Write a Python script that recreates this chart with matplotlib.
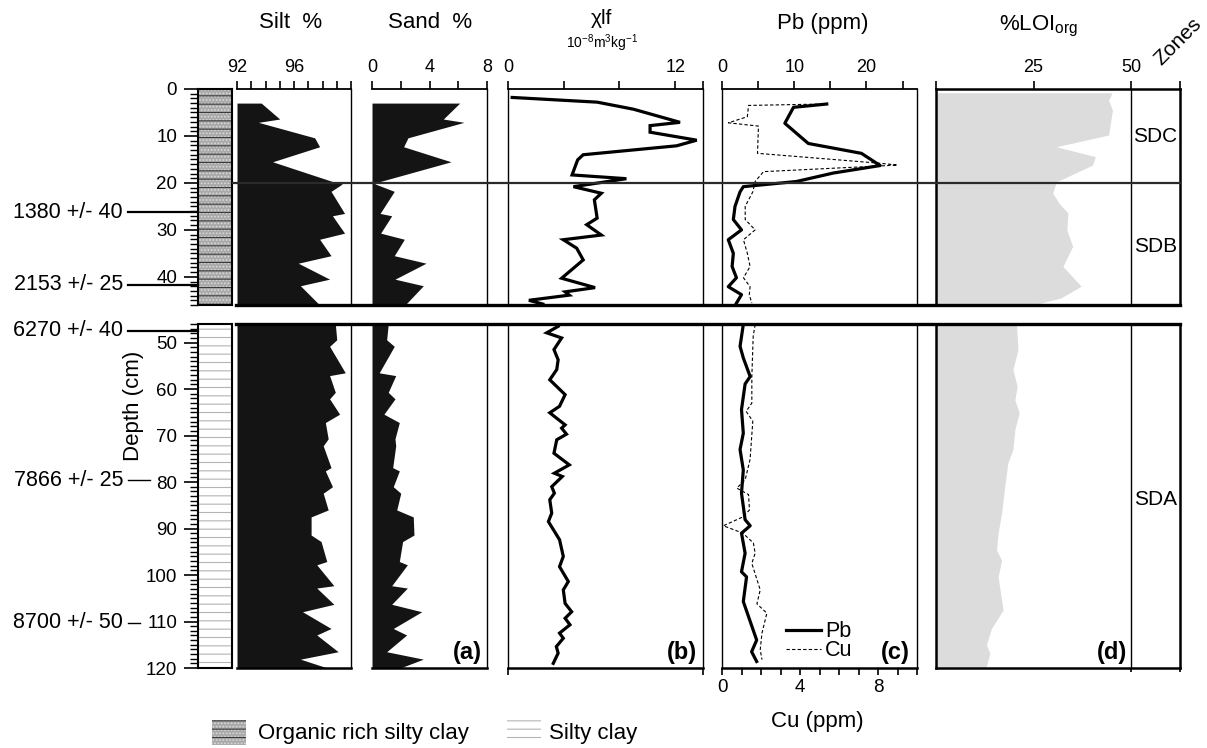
import matplotlib
matplotlib.use('Agg')
import matplotlib.pyplot as plt
from matplotlib.patches import Rectangle
from matplotlib.lines import Line2D
from matplotlib.transforms import blended_transform_factory
from matplotlib.ticker import MultipleLocator

# ---- data (depth in cm) ----
grain_depth_up = [3.0, 6.4, 7.1, 10.4, 12.3, 15.5, 19.9, 20.2, 21.8, 26.5, 27.0, 30.7, 32.0, 35.5,
                  37.1, 40.5, 41.9, 46.0]
silt_up = [93.7, 95.0, 93.5, 97.45, 97.8, 94.5, 98.9, 99.4, 98.6, 99.55, 98.7, 99.55, 97.8, 98.6,
           96.3, 98.5, 96.45, 97.8]
sand_up = [6.1, 4.96, 6.4, 2.5, 2.2, 5.5, 0.33, 0.2, 1.55, 0.56, 1.37, 0.6, 2.25, 1.55,
           3.76, 1.6, 3.57, 2.3]
grain_depth_lo = [46.0, 49.4, 50.8, 56.5, 57.1, 60.7, 62.1, 65.4, 67.2, 70.7, 72.2, 76.9, 77.6, 81.0,
                  82.4, 86.0, 87.5, 91.4, 92.8, 97.1, 97.8, 102.3, 102.8, 106.3, 107.9, 111.5, 112.9,
                  116.5, 118.1, 120.0]
silt_lo = [98.9, 99.0, 98.5, 99.6, 98.5, 98.9, 98.5, 99.2, 98.2, 98.4, 98.05, 98.6, 98.2, 98.7,
           98.05, 98.4, 97.2, 97.2, 97.9, 98.3, 97.6, 98.8, 97.6, 98.8, 96.6, 98.6, 97.6,
           99.1, 96.45, 98.35]
sand_lo = [1.13, 1.02, 1.55, 0.5, 1.65, 1.13, 1.6, 0.83, 1.9, 1.6, 1.65, 1.44, 1.9, 1.48,
           2.0, 1.72, 2.87, 2.92, 2.13, 1.9, 2.46, 1.37, 2.46, 1.37, 3.46, 1.48, 2.41,
           1.02, 3.57, 1.95]

chi_depth_up = [1.8, 2.8, 4.3, 7.1, 7.8, 9.2, 10.9, 12.1, 14.0, 15.1, 18.3, 19.1, 20.8, 22.2, 23.6,
                27.5, 28.9, 31.1, 32.1, 33.9, 36.4, 40.3, 42.3, 43.2, 43.9, 45.0, 45.8]
chi_up = [0.3, 6.4, 9.0, 12.35, 10.2, 10.2, 13.55, 12.1, 5.4, 5.0, 4.6, 8.5, 4.7, 6.7, 6.2,
          6.4, 5.65, 6.7, 3.97, 4.93, 5.4, 3.85, 6.25, 4.1, 4.4, 1.5, 2.5]
chi_depth_lo = [46.5, 47.9, 49.0, 51.5, 53.7, 55.8, 58.0, 61.2, 63.7, 65.1, 67.7, 68.4, 69.7, 70.9,
                73.8, 76.3, 78.1, 78.8, 81.0, 82.4, 83.8, 86.7, 88.5, 92.4, 96.0, 98.2, 101.4,
                103.2, 106.1, 107.9, 109.3, 110.7, 112.5, 113.6, 115.4, 116.8, 119.0]
chi_lo = [3.6, 2.78, 3.85, 3.3, 3.6, 3.5, 3.0, 4.1, 3.7, 3.0, 4.1, 3.85, 4.2, 3.5,
          3.3, 4.4, 3.33, 3.9, 3.14, 3.33, 3.0, 3.14, 2.9, 3.7, 3.97, 3.7, 4.33,
          3.97, 4.1, 4.57, 4.1, 4.45, 3.7, 3.97, 3.47, 3.6, 3.25]

pb_depth_up = [3.2, 3.9, 7.3, 11.6, 13.7, 16.3, 17.9, 19.7, 20.8, 21.9, 25.0, 27.8, 30.0, 32.1,
               35.0, 37.8, 40.2, 42.1, 43.8, 45.6]
pb_up = [14.5, 9.9, 8.7, 11.95, 19.3, 21.9, 15.4, 10.3, 2.95, 2.5, 1.8, 1.57, 2.7, 0.87,
         1.57, 1.4, 2.0, 0.87, 2.7, 2.0]
cu_depth_up = [3.2, 3.5, 5.9, 7.2, 7.9, 13.7, 15.8, 16.2, 17.6, 19.7, 21.9, 25.0, 27.8, 30.0,
               32.1, 35.0, 37.8, 40.2, 42.1, 43.8, 45.6]
cu_up = [5.2, 1.36, 1.3, 0.33, 1.87, 1.82, 8.06, 9.0, 2.13, 1.7, 1.58, 1.19, 1.19, 1.7,
         1.1, 1.3, 1.44, 1.1, 1.44, 1.4, 1.53]
pb_depth_lo = [46.1, 50.8, 53.3, 57.3, 58.9, 64.4, 69.5, 73.0, 77.4, 82.4, 88.1, 89.4, 91.0, 95.3,
               99.3, 100.4, 105.7, 114.0, 116.5, 118.6]
pb_lo = [2.95, 2.5, 2.95, 3.9, 3.2, 2.7, 2.95, 2.5, 2.95, 2.7, 3.2, 3.9, 2.7, 3.2,
         2.7, 3.4, 2.95, 4.8, 4.1, 4.8]
cu_depth_lo = [46.1, 48.6, 57.3, 63.0, 64.8, 66.9, 75.1, 79.5, 81.3, 82.7, 86.0, 87.5, 89.4, 91.0,
               93.1, 95.3, 97.5, 103.2, 106.2, 108.2, 112.5, 116.1, 118.2]
cu_lo = [1.7, 1.6, 1.53, 1.53, 1.24, 1.58, 1.44, 1.19, 0.76, 1.36, 1.41, 1.07, 0.07, 1.07,
         1.61, 1.7, 1.53, 1.96, 1.79, 2.3, 2.05, 1.96, 2.05]

loi_depth_up = [0.8, 2.4, 4.5, 9.8, 12.3, 14.4, 16.2, 19.8, 22.2, 24.4, 26.4, 30.0, 33.5, 37.8,
                42.0, 44.5, 46.0]
loi_up = [45.1, 44.2, 45.2, 44.2, 30.8, 40.8, 40.1, 30.8, 29.9, 31.6, 33.8, 33.5, 35.0, 32.5,
          37.2, 32.0, 24.8]
loi_depth_lo = [46.0, 51.5, 55.8, 59.4, 62.3, 65.1, 68.7, 73.0, 75.9, 81.0, 86.7, 91.0, 94.6, 96.8,
                100.4, 107.5, 111.5, 115.0, 116.8, 119.7]
loi_lo = [20.6, 21.0, 19.7, 20.8, 20.2, 21.3, 20.2, 19.7, 18.4, 17.6, 16.8, 15.9, 15.5, 16.8,
          15.9, 17.2, 14.2, 12.9, 13.8, 12.9]

age_labels_up = ['1380 +/- 40', '2153 +/- 25']
age_depths_up = [26.2, 41.7]
age_labels_lo = ['6270 +/- 40', '7866 +/- 25', '8700 +/- 50']
age_depths_lo = [47.4, 79.6, 110.3]

zone_names = ['SDC', 'SDB', 'SDA']
zone_depths = [10.2, 33.6, 83.8]

plt.rcParams['font.family'] = ['Liberation Sans', 'DejaVu Sans']
plt.rcParams['mathtext.default'] = 'regular'
plt.rcParams['hatch.linewidth'] = 0.8

W, H = 1207, 748
UP = (89, 305)
LO = (324, 668)


def box(x0, x1, y0, y1):
    return [x0 / W, 1 - y1 / H, (x1 - x0) / W, (y1 - y0) / H]


fig = plt.figure(figsize=(W / 100, H / 100), dpi=100)


def panel(x0, x1, row):
    ax = fig.add_axes(box(x0, x1, *row))
    ax.set_ylim((46, 0) if row == UP else (120, 46))
    ax.set_yticks([])
    if row == UP:
        ax.xaxis.set_ticks_position('top')
        ax.spines['bottom'].set_visible(False)
        ax.spines['top'].set_linewidth(1.3)
        ax.tick_params(axis='x', direction='out', length=6, width=1.2, labelsize=13, pad=3)
    else:
        ax.spines['top'].set_visible(False)
        ax.spines['bottom'].set_linewidth(1.8)
        ax.tick_params(axis='x', direction='out', length=5, width=1.2, labelsize=13, pad=3)
    for s in ('left', 'right'):
        ax.spines[s].set_linewidth(1.0)
    return ax


def litho_patches(xy, w, h, organic, transform):
    if organic:
        return [Rectangle(xy, w, h, transform=transform, facecolor='#a9a9a9',
                          edgecolor='#dadada', hatch='.....', lw=0),
                Rectangle(xy, w, h, transform=transform, facecolor='none',
                          edgecolor='#3a3a3a', hatch='--', lw=0)]
    return [Rectangle(xy, w, h, transform=transform, facecolor='white',
                      edgecolor='#b4b4b4', hatch='--', lw=0)]


# ---- lithology / depth axis ----
for row in (UP, LO):
    lit = fig.add_axes(box(198, 232, *row))
    lit.set_xlim(0, 1)
    lit.set_xticks([])
    if row == UP:
        lit.set_ylim(46, 0)
        lit.set_yticks(range(0, 41, 10))
    else:
        lit.set_ylim(120, 46)
        lit.set_yticks(range(50, 121, 10))
    lit.yaxis.set_minor_locator(MultipleLocator(1))
    lit.tick_params(axis='y', which='major', length=10, width=1.2, labelsize=13.5, pad=5)
    lit.tick_params(axis='y', which='minor', length=6, width=1.0)
    for s in lit.spines.values():
        s.set_linewidth(1.5)
    for p in litho_patches((0, 0), 1, 1, row == UP, lit.transAxes):
        lit.add_patch(p)
    tr = blended_transform_factory(fig.transFigure, lit.transData)
    labels = age_labels_up if row == UP else age_labels_lo
    depths = age_depths_up if row == UP else age_depths_lo
    for i, (lab, d) in enumerate(zip(labels, depths)):
        fig.text(123 / W, d, lab, transform=tr, ha='right', va='center', fontsize=15.5)
        x_end = 198 if (row == UP or i == 0) else (150 if i == 1 else 140)
        fig.add_artist(Line2D([128 / W, x_end / W], [d, d], transform=tr, color='black',
                              lw=1.6 if x_end == 198 else 1.0))
    if row == UP:
        tr_up = tr
    else:
        tr_lo = tr

# ---- silt & sand ----
silt_a = panel(237, 351, UP)
silt_b = panel(237, 351, LO)
sand_a = panel(372, 487, UP)
sand_b = panel(372, 487, LO)
for ax, d, v in ((silt_a, grain_depth_up, silt_up), (silt_b, grain_depth_lo, silt_lo)):
    ax.set_xlim(92, 100)
    ax.fill_betweenx(d, 92, v, color='#141414', lw=0)
    ax.spines['left'].set_visible(False)
for ax, d, v in ((sand_a, grain_depth_up, sand_up), (sand_b, grain_depth_lo, sand_lo)):
    ax.set_xlim(0, 8)
    ax.fill_betweenx(d, 0, v, color='#141414', lw=0)
    ax.spines['left'].set_visible(False)
silt_a.set_xticks(range(92, 101))
silt_a.set_xticklabels(['92', '', '', '', '96', '', '', '', ''])
sand_a.set_xticks([0, 2, 4, 6, 8])
sand_a.set_xticklabels(['0', '', '4', '', '8'])
silt_b.set_xticks([])
sand_b.set_xticks([])

# ---- magnetic susceptibility ----
chi_a = panel(508, 703, UP)
chi_b = panel(508, 703, LO)
for ax, d, v in ((chi_a, chi_depth_up, chi_up), (chi_b, chi_depth_lo, chi_lo)):
    ax.set_xlim(0, 14)
    ax.plot(v, d, color='black', lw=2.3, solid_joinstyle='miter')
chi_a.set_xticks([0, 4, 8, 12, 14])
chi_a.set_xticklabels(['0', '', '', '12', ''])
chi_b.set_xticks([0, 14])
chi_b.set_xticklabels(['', ''])

# ---- Pb / Cu ----
pb_a = panel(722, 917, UP)
cu_a = pb_a.twiny()
pb_a.xaxis.tick_top()
pb_a.xaxis.set_label_position('top')
pb_a.set_xlim(0, 27)
pb_a.set_xticks([0, 5, 10, 15, 20, 25])
pb_a.set_xticklabels(['0', '', '10', '', '20', ''])
pb_a.tick_params(axis='x', direction='out', length=6, width=1.2, labelsize=13, pad=3,
                 labeltop=True, labelbottom=False)
pb_a.plot(pb_up, pb_depth_up, color='black', lw=2.3)
cu_a.set_xlim(0, 10)
cu_a.set_xticks([])
for s in cu_a.spines.values():
    s.set_visible(False)
cu_a.plot(cu_up, cu_depth_up, color='black', lw=0.8, dashes=(3, 2))

cu_b = panel(722, 917, LO)
pb_b = cu_b.twiny()
cu_b.xaxis.tick_bottom()
cu_b.set_xlim(0, 10)
cu_b.set_xticks(range(0, 11))
cu_b.set_xticklabels(['0', '', '', '', '4', '', '', '', '8', '', ''])
cu_b.tick_params(axis='x', labelsize=13.5)
cu_line, = cu_b.plot(cu_lo, cu_depth_lo, color='black', lw=0.8, dashes=(3, 2), label='Cu')
pb_b.set_xlim(0, 27)
pb_b.set_xticks([])
for s in pb_b.spines.values():
    s.set_visible(False)
pb_line, = pb_b.plot(pb_lo, pb_depth_lo, color='black', lw=2.3, label='Pb')
pb_b.legend(handles=[pb_line, cu_line], loc='lower left', bbox_to_anchor=(0.33, 0.02),
            frameon=False, fontsize=15.5, handlelength=1.6, handletextpad=0.2,
            labelspacing=-0.1, borderpad=0, borderaxespad=0)

# ---- LOI + zones ----
loi_a = panel(936, 1180, UP)
loi_b = panel(936, 1180, LO)
for ax, d, v in ((loi_a, loi_depth_up, loi_up), (loi_b, loi_depth_lo, loi_lo)):
    ax.set_xlim(0, 62.5)
    ax.fill_betweenx(d, 0, v, color='#dcdcdc', lw=0)
    ax.axvline(50, color='black', lw=1.0)
    ax.spines['left'].set_linewidth(1.8)
    ax.spines['right'].set_linewidth(1.8)
    for name, zd in zip(zone_names, zone_depths):
        ylo, yhi = sorted(ax.get_ylim())
        if ylo <= zd <= yhi:
            ax.text(56.25, zd, name, ha='center', va='center', fontsize=15)
loi_a.spines['top'].set_linewidth(1.8)
loi_a.set_xticks([0, 25, 50, 62.5])
loi_a.set_xticklabels(['', '25', '50', ''])
loi_b.set_xticks([50, 62.5])
loi_b.set_xticklabels(['', ''])
loi_b.tick_params(axis='x', length=3)

# ---- horizontal boundary lines ----
fig.add_artist(Line2D([233 / W, 1180 / W], [20, 20], transform=tr_up, color='#2a2a2a', lw=1.6))
fig.add_artist(Line2D([236 / W, 1180 / W], [46, 46], transform=tr_up, color='black', lw=2.4))
fig.add_artist(Line2D([236 / W, 1180 / W], [46, 46], transform=tr_lo, color='black', lw=2.4))

# ---- titles and labels ----
fig.text(291 / W, 1 - 23 / H, 'Silt  %', ha='center', va='center', fontsize=16)
fig.text(430 / W, 1 - 23 / H, 'Sand  %', ha='center', va='center', fontsize=16)
fig.text(601 / W, 1 - 19 / H, 'χlf', ha='center', va='center', fontsize=15)
fig.text(602 / W, 1 - 43 / H, '10$^{-8}$m$^{3}$kg$^{-1}$', ha='center', va='center', fontsize=10)
fig.text(823 / W, 1 - 23 / H, 'Pb (ppm)', ha='center', va='center', fontsize=16)
fig.text(1039 / W, 1 - 26 / H, '%LOI$_{org}$', ha='center', va='center', fontsize=16)
fig.text(1178 / W, 1 - 42 / H, 'Zones', ha='center', va='center', fontsize=15, rotation=45)
fig.text(817 / W, 1 - 721 / H, 'Cu (ppm)', ha='center', va='center', fontsize=16)
fig.text(134 / W, 1 - 406 / H, 'Depth (cm)', ha='center', va='center', fontsize=16, rotation=90)

for lab, xr in (('(a)', 482), ('(b)', 697), ('(c)', 910), ('(d)', 1127)):
    fig.text(xr / W, 1 - 653 / H, lab, ha='right', va='center', fontsize=17, fontweight='bold')

# ---- lithology legend ----
for p in litho_patches((212 / W, 1 - 745 / H), 34 / W, 25 / H, True, fig.transFigure):
    fig.add_artist(p)
fig.text(258 / W, 1 - 733 / H, 'Organic rich silty clay', ha='left', va='center', fontsize=16)
for p in litho_patches((507 / W, 1 - 745 / H), 34 / W, 25 / H, False, fig.transFigure):
    fig.add_artist(p)
fig.text(549 / W, 1 - 733 / H, 'Silty clay', ha='left', va='center', fontsize=16)

fig.savefig('out.png', dpi=100, facecolor='white')
